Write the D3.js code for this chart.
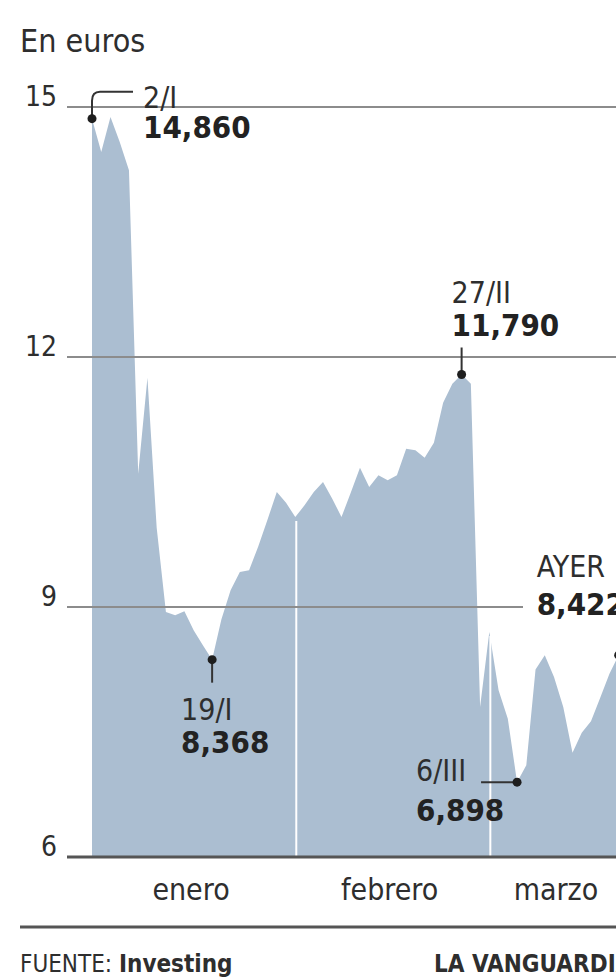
<!DOCTYPE html>
<html>
<head>
<meta charset="utf-8">
<script src="https://cdn.jsdelivr.net/npm/d3@7"></script>
<style>
  html, body { margin: 0; padding: 0; background: #fff; }
  svg { display: block; }
  text { font-family: "DejaVu Sans Condensed", "DejaVu Sans", sans-serif; font-stretch: condensed; fill: #2e2e2e; }
</style>
</head>
<body>
<svg id="chart" width="616" height="978"></svg>
<script>
const width = 616;
const height = 978;

// trading days, 2 Jan - 21 Mar
const dates = [
  "2024-01-02","2024-01-03","2024-01-04","2024-01-05","2024-01-08","2024-01-09","2024-01-10",
  "2024-01-11","2024-01-12","2024-01-15","2024-01-16","2024-01-17","2024-01-18","2024-01-19",
  "2024-01-22","2024-01-23","2024-01-24","2024-01-25","2024-01-26","2024-01-29","2024-01-30",
  "2024-01-31",
  "2024-02-01","2024-02-02","2024-02-05","2024-02-06","2024-02-07","2024-02-08","2024-02-09",
  "2024-02-12","2024-02-13","2024-02-14","2024-02-15","2024-02-16","2024-02-19","2024-02-20",
  "2024-02-21","2024-02-22","2024-02-23","2024-02-26","2024-02-27","2024-02-28","2024-02-29",
  "2024-03-01","2024-03-04","2024-03-05","2024-03-06","2024-03-07","2024-03-08","2024-03-11",
  "2024-03-12","2024-03-13","2024-03-14","2024-03-15","2024-03-18","2024-03-19","2024-03-20",
  "2024-03-21"
];

const prices = [
  14.86, 14.46, 14.88, 14.58, 14.24, 10.6, 11.75,
  9.95, 8.94, 8.9, 8.95, 8.72, 8.54, 8.368,
  8.85, 9.2, 9.42, 9.44, 9.73, 10.05, 10.38,
  10.25,
  10.08, 10.22, 10.38, 10.5, 10.3, 10.08, 10.37,
  10.67, 10.44, 10.58, 10.52, 10.58, 10.9, 10.88,
  10.79, 10.97, 11.45, 11.68, 11.79, 11.68, 7.8,
  8.7, 8.0, 7.66, 6.898, 7.1, 8.25, 8.42,
  8.16, 7.8, 7.25, 7.49, 7.63, 7.91, 8.2,
  8.422
];

const yTicks = [6, 9, 12, 15];
const months = ["enero", "febrero", "marzo"];
const monthKeys = ["2024-01", "2024-02", "2024-03"];

const noteDates = ["2024-01-02", "2024-01-19", "2024-02-27", "2024-03-06", "2024-03-21"];
const noteLabels = ["2/I", "19/I", "27/II", "6/III", "AYER"];

const data = dates.map((d, i) => ({ date: d, value: prices[i] }));

const svg = d3.select("#chart");

const x = d3.scalePoint()
  .domain(dates)
  .range([92, 618.7]);

const y = d3.scaleLinear()
  .domain([6, 15])
  .range([857, 107]);

const es = d3.formatLocale({ decimal: ",", thousands: ".", grouping: [3], currency: ["", "€"] });
const fmt = es.format(".3f");

// title
svg.append("text")
  .attr("x", 20)
  .attr("y", 52)
  .attr("font-size", 32)
  .text("En euros");

// area
const area = d3.area()
  .x(d => x(d.date))
  .y0(y(6))
  .y1(d => y(d.value));

svg.append("path")
  .datum(data)
  .attr("fill", "#abbed1")
  .attr("d", area);

// white month separators
const firstDays = monthKeys.slice(1).map(m => data.find(d => d.date.startsWith(m)));
svg.selectAll(".sep")
  .data(firstDays)
  .join("line")
  .attr("x1", d => x(d.date) + 1)
  .attr("x2", d => x(d.date) + 1)
  .attr("y1", y(6))
  .attr("y2", d => y(d.value) + 4)
  .attr("stroke", "#fff")
  .attr("stroke-width", 2);

// gridlines
svg.selectAll(".grid")
  .data(yTicks.filter(t => t > 6))
  .join("line")
  .attr("x1", 67)
  .attr("x2", t => t === 9 ? 523 : width)
  .attr("y1", t => y(t))
  .attr("y2", t => y(t))
  .attr("stroke", "#8c8c8c")
  .attr("stroke-width", 2);

svg.append("line")
  .attr("x1", 67)
  .attr("x2", width)
  .attr("y1", y(6))
  .attr("y2", y(6))
  .attr("stroke", "#555")
  .attr("stroke-width", 3);

// y labels
svg.selectAll(".ylab")
  .data(yTicks)
  .join("text")
  .attr("x", 57)
  .attr("y", t => y(t) - 1)
  .attr("text-anchor", "end")
  .attr("font-size", 28)
  .text(t => t);

// month labels, centred on each month's trading days
svg.selectAll(".month")
  .data(monthKeys)
  .join("text")
  .attr("x", m => {
    const days = dates.filter(d => d.startsWith(m));
    return (x(days[0]) + x(days[days.length - 1])) / 2 + 2;
  })
  .attr("y", 900)
  .attr("text-anchor", "middle")
  .attr("font-size", 30)
  .text((m, i) => months[i]);

// annotations
const layout = {
  "2/I":   { dx: 51,   dy1: -11, dy2: 19, leader: (cx, cy) => `M${cx},${cy}V${cy - 18}Q${cx},${cy - 27} ${cx + 8},${cy - 27}H${cx + 41}` },
  "19/I":  { dx: -31,  dy1: 60,  dy2: 93, leader: (cx, cy) => `M${cx},${cy}V${cy + 23}` },
  "27/II": { dx: -10,  dy1: -72, dy2: -39, leader: (cx, cy) => `M${cx},${cy}V${cy - 27}` },
  "6/III": { dx: -101, dy1: -1,  dy2: 39, leader: (cx, cy) => `M${cx - 36},${cy}H${cx}` },
  "AYER":  { dx: -82,  dy1: -78, dy2: -40, leader: null }
};

noteDates.forEach((d, i) => {
  const p = data.find(e => e.date === d);
  const cx = x(p.date), cy = y(p.value);
  const l = layout[noteLabels[i]];
  const g = svg.append("g");
  if (l.leader) {
    g.append("path")
      .attr("d", l.leader(cx, cy))
      .attr("fill", "none")
      .attr("stroke", "#333")
      .attr("stroke-width", 2);
  }
  g.append("circle")
    .attr("cx", cx)
    .attr("cy", cy)
    .attr("r", 4.5)
    .attr("fill", "#1e1e1e");
  g.append("text")
    .attr("x", cx + l.dx)
    .attr("y", cy + l.dy1)
    .attr("font-size", 30)
    .text(noteLabels[i]);
  g.append("text")
    .attr("x", cx + l.dx)
    .attr("y", cy + l.dy2)
    .attr("font-size", 31)
    .attr("font-weight", "bold")
    .style("fill", "#222")
    .text(fmt(p.value));
});

// footer
svg.append("line")
  .attr("x1", 20)
  .attr("x2", width)
  .attr("y1", 927)
  .attr("y2", 927)
  .attr("stroke", "#555")
  .attr("stroke-width", 3);

const src = svg.append("text")
  .attr("x", 20)
  .attr("y", 972)
  .attr("font-size", 24);
src.append("tspan").text("FUENTE: ");
src.append("tspan").attr("font-weight", "bold").text("Investing");

svg.append("text")
  .attr("x", 434)
  .attr("y", 972)
  .attr("font-size", 24)
  .attr("font-weight", "bold")
  .text("LA VANGUARDIA");
</script>
</body>
</html>
